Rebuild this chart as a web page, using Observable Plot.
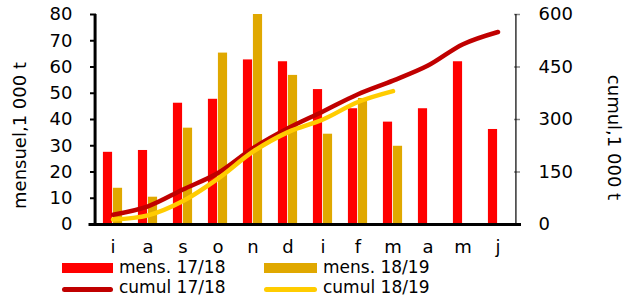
<!DOCTYPE html>
<html>
<head>
<meta charset="utf-8">
<script src="https://cdn.jsdelivr.net/npm/d3@7"></script>
<script src="https://cdn.jsdelivr.net/npm/@observablehq/plot@0.6"></script>
<style>
  body { margin: 0; background: #fff; }
  #chart { width: 635px; }
</style>
</head>
<body>
<div id="chart"></div>
<script>
// ---- data ----
const months = ["i", "a", "s", "o", "n", "d", "i", "f", "m", "a", "m", "j"];
const mens1718 = [27.5, 28.2, 46.2, 47.7, 62.7, 62, 51.4, 44.1, 39, 44.1, 62, 36.2];
const mens1819 = [13.8, 10.4, 36.7, 65.3, 80, 56.8, 34.4, 48, 29.8];
const cumul1718 = [28, 52, 100, 147, 218, 275, 323, 372, 411, 454, 515, 550];
const cumul1819 = [14, 26, 67, 131, 208, 264, 300, 350, 381];
const leftTicks = [0, 10, 20, 30, 40, 50, 60, 70, 80];
const rightTicks = [0, 150, 300, 450, 600];
const leftTitle = "mensuel,1 000 t";
const rightTitle = "cumul,1 000 t";
const legendLabels = ["mens. 17/18", "mens. 18/19", "cumul 17/18", "cumul 18/19"];

// ---- colours ----
const cRed = "#FF0000", cGold = "#E0A800", cDark = "#C00000", cYellow = "#FFCC00";

const W = 635, H = 258;
const mL = 90, mR = 115, mT = 14, mB = 34;
const bw = (W - mL - mR) / months.length;
const k = 80 / 600; // right-axis to left-axis factor

const t1718 = mens1718.map((v, i) => ({i, v}));
const t1819 = mens1819.map((v, i) => ({i, v}));
const l1718 = cumul1718.map((v, i) => ({i, v}));
const l1819 = cumul1819.map((v, i) => ({i, v}));

const plot = Plot.plot({
  width: W, height: H,
  marginLeft: mL, marginRight: mR, marginTop: mT, marginBottom: mB,
  style: {fontFamily: "DejaVu Sans", fontSize: "18px", color: "#000", background: "#fff", overflow: "visible"},
  x: {type: "band", domain: d3.range(months.length), padding: 0, axis: null},
  y: {domain: [0, 80], axis: null},
  marks: [
    Plot.barY(t1718, {x: "i", y: "v", fill: cRed, insetLeft: bw / 2 - 10, insetRight: bw / 2}),
    Plot.barY(t1819, {x: "i", y: "v", fill: cGold, insetLeft: bw / 2, insetRight: bw / 2 - 10}),
    Plot.line(l1718, {x: "i", y: d => d.v * k, stroke: cDark, strokeWidth: 4.5, curve: "catmull-rom", strokeLinecap: "round"}),
    Plot.line(l1819, {x: "i", y: d => d.v * k, stroke: cYellow, strokeWidth: 4.5, curve: "catmull-rom", strokeLinecap: "round"}),
    // axes
    Plot.axisY(leftTicks, {anchor: "left", tickSize: 0, tickPadding: 18, label: null}),
    Plot.axisY(rightTicks.map(v => v * k), {anchor: "right", tickSize: 0, tickPadding: 18, tickFormat: d => Math.round(d / k), label: null}),
    Plot.axisX(d3.range(months.length), {anchor: "bottom", tickSize: 0, tickPadding: 16, tickFormat: i => months[i], label: null}),
    // inward ticks
    Plot.ruleY(leftTicks.slice(1), {stroke: "#000", strokeWidth: 2, insetRight: W - mL - mR - 6}),
    Plot.ruleY(rightTicks.slice(1).map(v => v * k), {stroke: "#888", strokeWidth: 1.5, insetLeft: W - mL - mR - 6}),
    // axis lines
    Plot.ruleX([0], {y1: 0, y2: 80, dx: -bw / 2, stroke: "#000", strokeWidth: 3}),
    Plot.ruleX([months.length - 1], {y1: 0, y2: 80, dx: bw / 2, stroke: "#000", strokeWidth: 1.2}),
    Plot.ruleY([0], {stroke: "#000", strokeWidth: 3, insetLeft: -1.5, insetRight: -1}),
    // axis titles
    Plot.text([leftTitle], {frameAnchor: "left", dx: -70, dy: 16, rotate: -90, text: d => d, fontSize: 18, textAnchor: "middle", lineAnchor: "middle"}),
    Plot.text([rightTitle], {frameAnchor: "right", dx: 93, dy: 18, rotate: 90, text: d => d, fontSize: 18, textAnchor: "middle", lineAnchor: "middle"})
  ]
});
document.getElementById("chart").appendChild(plot);

// ---- legend below ----
const lg = d3.select("#chart").append("svg")
  .attr("width", W).attr("height", 301 - H)
  .style("display", "block")
  .style("font-family", "DejaVu Sans").style("font-size", "17px");
const items = [
  {x: 62, w: 51, type: "rect", color: cRed, label: legendLabels[0], row: 0},
  {x: 264, w: 53, type: "rect", color: cGold, label: legendLabels[1], row: 0},
  {x: 62, w: 51, type: "line", color: cDark, label: legendLabels[2], row: 1},
  {x: 264, w: 53, type: "line", color: cYellow, label: legendLabels[3], row: 1}
];
items.forEach(it => {
  if (it.type === "rect") {
    lg.append("rect").attr("x", it.x).attr("y", 5).attr("width", it.w).attr("height", 10).attr("fill", it.color);
  } else {
    lg.append("line").attr("x1", it.x + 2.5).attr("x2", it.x + it.w - 2.5).attr("y1", 31.5).attr("y2", 31.5)
      .attr("stroke", it.color).attr("stroke-width", 5).attr("stroke-linecap", "round");
  }
  lg.append("text").attr("x", it.x + it.w + 6).attr("y", it.row === 0 ? 15 : 35).attr("fill", "#000").text(it.label);
});
</script>
</body>
</html>
